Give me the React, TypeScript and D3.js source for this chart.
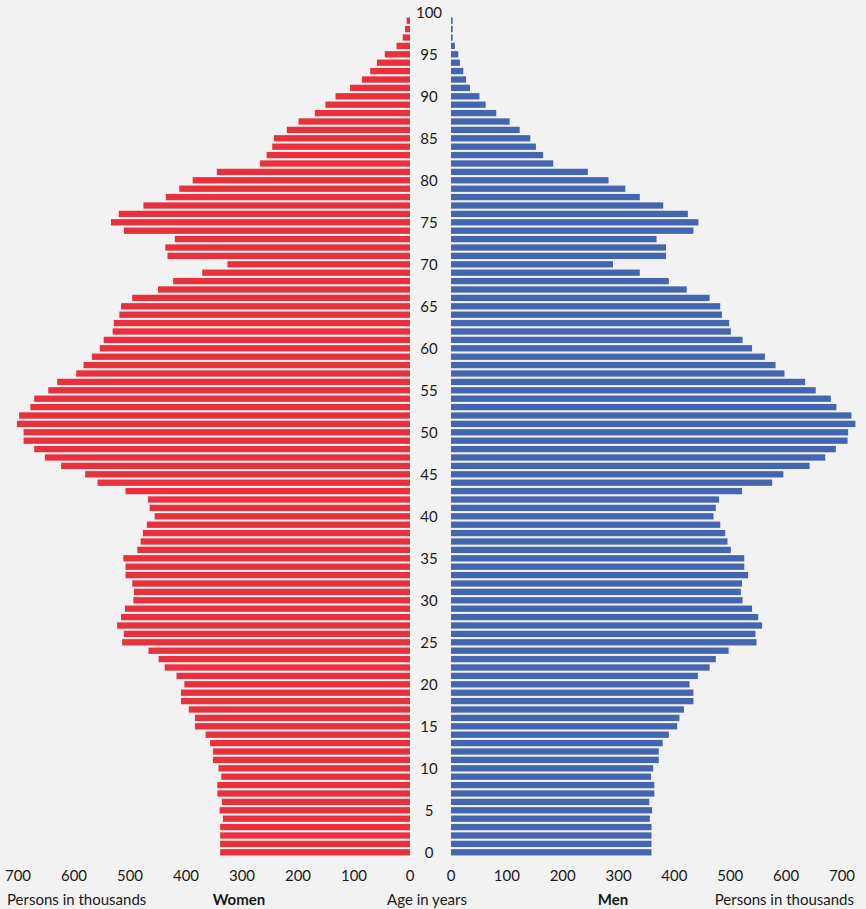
import * as d3 from "d3";

// ages 0..99 carry bars, 100 is only a tick
const ages = d3.range(0, 101);
const ageTicks = d3.range(0, 101, 5);
const valueTicks = [0, 100, 200, 300, 400, 500, 600, 700];

// persons in thousands, index = age (0..99)
const women = [
  339, 339, 339, 339, 334, 340, 336, 344, 344, 337,
  342, 352, 352, 357, 365, 384, 384, 395, 409, 409,
  403, 417, 438, 449, 467, 514, 511, 523, 516, 509,
  494, 493, 496, 508, 508, 512, 487, 481, 477, 470,
  456, 465, 468, 508, 558, 580, 623, 652, 671, 690,
  690, 702, 698, 678, 671, 646, 630, 596, 583, 568,
  554, 547, 531, 529, 519, 516, 496, 450, 423, 371,
  326, 433, 437, 420, 511, 534, 520, 476, 436, 412,
  388, 345, 268, 256, 246, 243, 220, 199, 170, 151,
  133, 107, 86, 71, 59, 45, 24, 13, 9, 6,
];

const men = [
  359, 359, 359, 359, 356, 360, 355, 364, 364, 358,
  362, 372, 372, 379, 390, 405, 409, 417, 434, 434,
  427, 442, 463, 474, 497, 547, 545, 557, 550, 539,
  522, 519, 521, 532, 525, 525, 501, 495, 491, 482,
  470, 474, 480, 521, 575, 595, 642, 670, 689, 710,
  711, 724, 717, 690, 680, 653, 634, 597, 581, 562,
  539, 522, 501, 498, 485, 482, 463, 422, 390, 338,
  290, 385, 385, 368, 434, 443, 424, 380, 338, 312,
  282, 245, 183, 165, 152, 142, 123, 105, 81, 62,
  51, 34, 27, 22, 16, 13, 7, 3, 3, 3,
];

const W = 866;
const H = 909;
const FONT = "Lato, 'Open Sans', sans-serif";
const TEXT = "#1a1a1a";
const RED = "#e8313d";
const BLUE = "#4566ae";

export default function App() {
  const xWomen = d3.scaleLinear().domain([0, 700]).range([410, 18]);
  const xMen = d3.scaleLinear().domain([0, 700]).range([451, 842]);
  const y = d3
    .scaleBand<number>()
    .domain([...ages].reverse())
    .range([8.1, 856.5])
    .paddingInner(0.25)
    .paddingOuter(0.125);
  const bw = y.bandwidth();
  const mid = (a: number) => (y(a) ?? 0) + bw / 2;

  return (
    <div style={{ position: "absolute", left: 0, top: 0 }}>
      <svg width={W} height={H} style={{ display: "block", background: "#f2f2f2" }} fontFamily={FONT}>
        {/* women bars */}
        <g fill={RED}>
          {women.map((v, age) => (
            <rect
              key={"w" + age}
              x={xWomen(v)}
              y={y(age)}
              width={xWomen(0) - xWomen(v)}
              height={bw}
            />
          ))}
        </g>
        {/* men bars */}
        <g fill={BLUE}>
          {men.map((v, age) => (
            <rect
              key={"m" + age}
              x={xMen(0)}
              y={y(age)}
              width={xMen(v) - xMen(0)}
              height={bw}
            />
          ))}
        </g>

        {/* age labels */}
        <g fontSize={15} fill={TEXT} textAnchor="middle">
          {ageTicks.map((a) => (
            <text key={"a" + a} x={429} y={mid(a)} dominantBaseline="central">
              {a}
            </text>
          ))}
        </g>

        {/* value axes */}
        <g fontSize={15} fill={TEXT} textAnchor="middle">
          {valueTicks.map((t) => (
            <text key={"tw" + t} x={xWomen(t)} y={881}>
              {t}
            </text>
          ))}
          {valueTicks.map((t) => (
            <text key={"tm" + t} x={xMen(t)} y={881}>
              {t}
            </text>
          ))}
        </g>

        {/* axis titles */}
        <g fontSize={15} fill={TEXT}>
          <text x={7} y={905}>Persons in thousands</text>
          <text x={239} y={905} textAnchor="middle" fontWeight="bold">Women</text>
          <text x={427} y={905} textAnchor="middle">Age in years</text>
          <text x={613} y={905} textAnchor="middle" fontWeight="bold">Men</text>
          <text x={854} y={905} textAnchor="end">Persons in thousands</text>
        </g>
      </svg>
    </div>
  );
}
